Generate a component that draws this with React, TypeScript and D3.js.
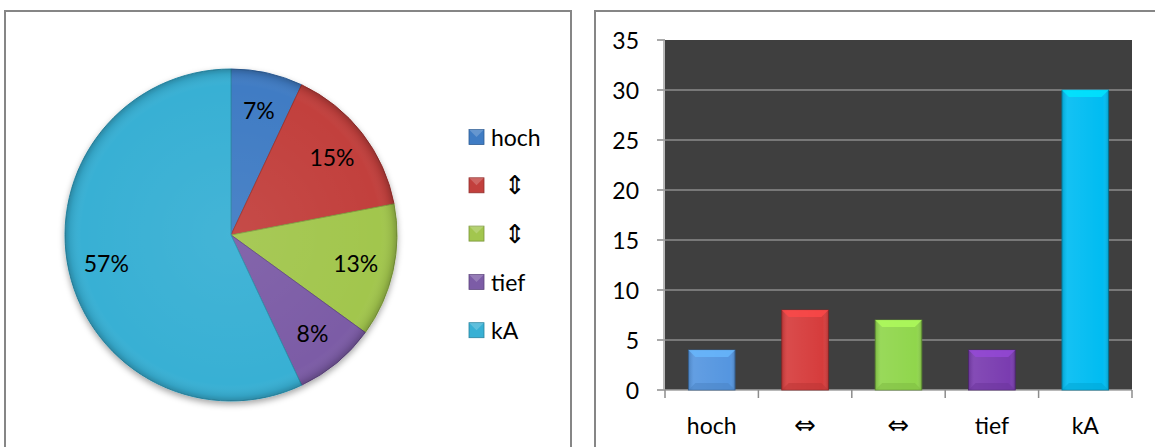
import React from "react";
import * as d3 from "d3";

// pie (percent labels as shown) and bar (counts) data
const legendLabels = ["hoch", "⇕", "⇕", "tief", "kA"];
const piePercent = [7, 15, 13, 8, 57];
const pieColors = ["#3f7cc4", "#c2403d", "#a2c64e", "#7c5ca6", "#38b0d4"];

const barLabels = ["hoch", "⇔", "⇔", "tief", "kA"];
const barValues = [4, 8, 7, 4, 30];
const barColors = ["#5596e0", "#d63c3c", "#90d64c", "#7a3cb0", "#00bcf2"];
const yTicks = [0, 5, 10, 15, 20, 25, 30, 35];

const font = "Lato, 'Open Sans', sans-serif";
const arrowFont = "'DejaVu Sans', sans-serif";
const isArrow = (s: string) => s === "⇕" || s === "⇔";

const App = () => {
	const width = 1155;
	const height = 447;

	// pie
	const cx = 231;
	const cy = 235;
	const radius = 166;
	const pie = d3.pie<number>().sort(null).value((d) => d)(piePercent);
	const arc = d3.arc<d3.PieArcDatum<number>>().innerRadius(0).outerRadius(radius);
	const labelArc = d3
		.arc<d3.PieArcDatum<number>>()
		.innerRadius(radius * 0.77)
		.outerRadius(radius * 0.77);

	// bars
	const plotLeft = 665;
	const plotRight = 1132;
	const plotTop = 40;
	const plotBottom = 390;
	const xScale = d3
		.scaleBand()
		.domain(barLabels.map((_, i) => String(i)))
		.range([plotLeft, plotRight])
		.paddingInner(0.5)
		.paddingOuter(0.25);
	const yScale = d3.scaleLinear().domain([0, 35]).range([plotBottom, plotTop]);
	const step = xScale.step();

	return (
		<svg width={width} height={height} style={{ position: "absolute", left: 0, top: 0 }}>
			<defs>
				<radialGradient id="pieShade" cx={cx} cy={cy} r={radius} gradientUnits="userSpaceOnUse">
					<stop offset="0" stopColor="#fff" stopOpacity={0.06} />
					<stop offset="0.9" stopColor="#fff" stopOpacity={0} />
					<stop offset="0.97" stopColor="#000" stopOpacity={0.08} />
					<stop offset="1" stopColor="#000" stopOpacity={0.22} />
				</radialGradient>
				<filter id="shadow" x="-20%" y="-20%" width="140%" height="140%">
					<feDropShadow dx="0" dy="3" stdDeviation="3" floodColor="#000" floodOpacity="0.35" />
				</filter>
				<linearGradient id="barShade" x1="0" x2="1" y1="0" y2="0">
					<stop offset="0" stopColor="#000" stopOpacity={0.15} />
					<stop offset="0.12" stopColor="#fff" stopOpacity={0.08} />
					<stop offset="0.88" stopColor="#fff" stopOpacity={0.0} />
					<stop offset="1" stopColor="#000" stopOpacity={0.18} />
				</linearGradient>
			</defs>

			{/* left panel */}
			<rect x={5} y={11} width={566} height={450} fill="#fff" stroke="#868686" strokeWidth={2} />
			<g transform={`translate(${cx},${cy})`} filter="url(#shadow)">
				{pie.map((d, i) => (
					<path key={i} d={arc(d) || ""} fill={pieColors[i]} stroke={d3.color(pieColors[i])!.darker(0.6).toString()} strokeWidth={1} />
				))}
			</g>
			<circle cx={cx} cy={cy} r={radius} fill="url(#pieShade)" />
			{pie.map((d, i) => {
				const [lx, ly] = labelArc.centroid(d);
				return (
					<text key={i} x={cx + lx} y={cy + ly} textAnchor="middle" dominantBaseline="central" fontFamily={font} fontSize={23} fill="#000">
						{piePercent[i]}%
					</text>
				);
			})}
			{legendLabels.map((label, i) => {
				const ly = 137 + i * 48.3;
				const arrow = isArrow(label);
				return (
					<g key={i}>
						<rect x={469} y={ly - 7.5} width={15} height={15} fill={pieColors[i]} stroke={d3.color(pieColors[i])!.darker(0.8).toString()} strokeWidth={0.8} />
						<polygon points={`${469},${ly - 7.5} ${484},${ly - 7.5} ${476.5},${ly}`} fill="#fff" opacity={0.2} />
						<text
							x={arrow ? 515 : 491}
							y={ly}
							textAnchor={arrow ? "middle" : "start"}
							dominantBaseline="central"
							fontFamily={arrow ? arrowFont : font}
							fontSize={arrow ? 26 : 23}
							fill="#000"
						>
							{label}
						</text>
					</g>
				);
			})}

			{/* right panel */}
			<rect x={595} y={11} width={580} height={450} fill="#fff" stroke="#868686" strokeWidth={2} />
			<rect x={plotLeft} y={plotTop} width={plotRight - plotLeft} height={plotBottom - plotTop} fill="#3f3f3f" />
			{yTicks.map((t) => (
				<g key={t}>
					{t > 0 && t < 35 ? (
						<line x1={plotLeft} x2={plotRight} y1={yScale(t)} y2={yScale(t)} stroke="#8c8c8c" strokeWidth={1.5} />
					) : null}
					<line x1={657} x2={plotLeft} y1={yScale(t)} y2={yScale(t)} stroke="#8c8c8c" strokeWidth={1.5} />
					<text x={639} y={yScale(t)} textAnchor="end" dominantBaseline="central" fontFamily={font} fontSize={23} fill="#000">
						{t}
					</text>
				</g>
			))}
			<line x1={plotLeft - 1} x2={plotLeft - 1} y1={plotTop} y2={plotBottom} stroke="#a0a0a0" strokeWidth={1.5} />
			<line x1={plotLeft} x2={plotRight} y1={plotBottom} y2={plotBottom} stroke="#a0a0a0" strokeWidth={1.5} />
			{d3.range(barLabels.length + 1).map((i) => (
				<line key={i} x1={plotLeft + i * step} x2={plotLeft + i * step} y1={plotBottom} y2={plotBottom + 8} stroke="#8c8c8c" strokeWidth={1.5} />
			))}
			{barValues.map((v, i) => {
				const x = xScale(String(i))!;
				const w = xScale.bandwidth();
				const y = yScale(v);
				const h = plotBottom - y;
				const c = d3.color(barColors[i])!;
				const bev = 7;
				const arrow = isArrow(barLabels[i]);
				return (
					<g key={i}>
						<rect x={x} y={y} width={w} height={h} fill={barColors[i]} stroke={c.darker(1.2).toString()} strokeWidth={0.8} />
						<rect x={x} y={y} width={w} height={h} fill="url(#barShade)" />
						<polygon points={`${x},${y} ${x + w},${y} ${x + w - bev},${y + bev} ${x + bev},${y + bev}`} fill={c.brighter(0.6).toString()} opacity={0.75} />
						<polygon points={`${x},${plotBottom} ${x + w},${plotBottom} ${x + w - bev},${plotBottom - bev} ${x + bev},${plotBottom - bev}`} fill={c.darker(0.4).toString()} opacity={0.5} />
						<text
							x={x + w / 2}
							y={425}
							textAnchor="middle"
							dominantBaseline="central"
							fontFamily={arrow ? arrowFont : font}
							fontSize={arrow ? 26 : 23}
							fill="#000"
						>
							{barLabels[i]}
						</text>
					</g>
				);
			})}
		</svg>
	);
};

export default App;
